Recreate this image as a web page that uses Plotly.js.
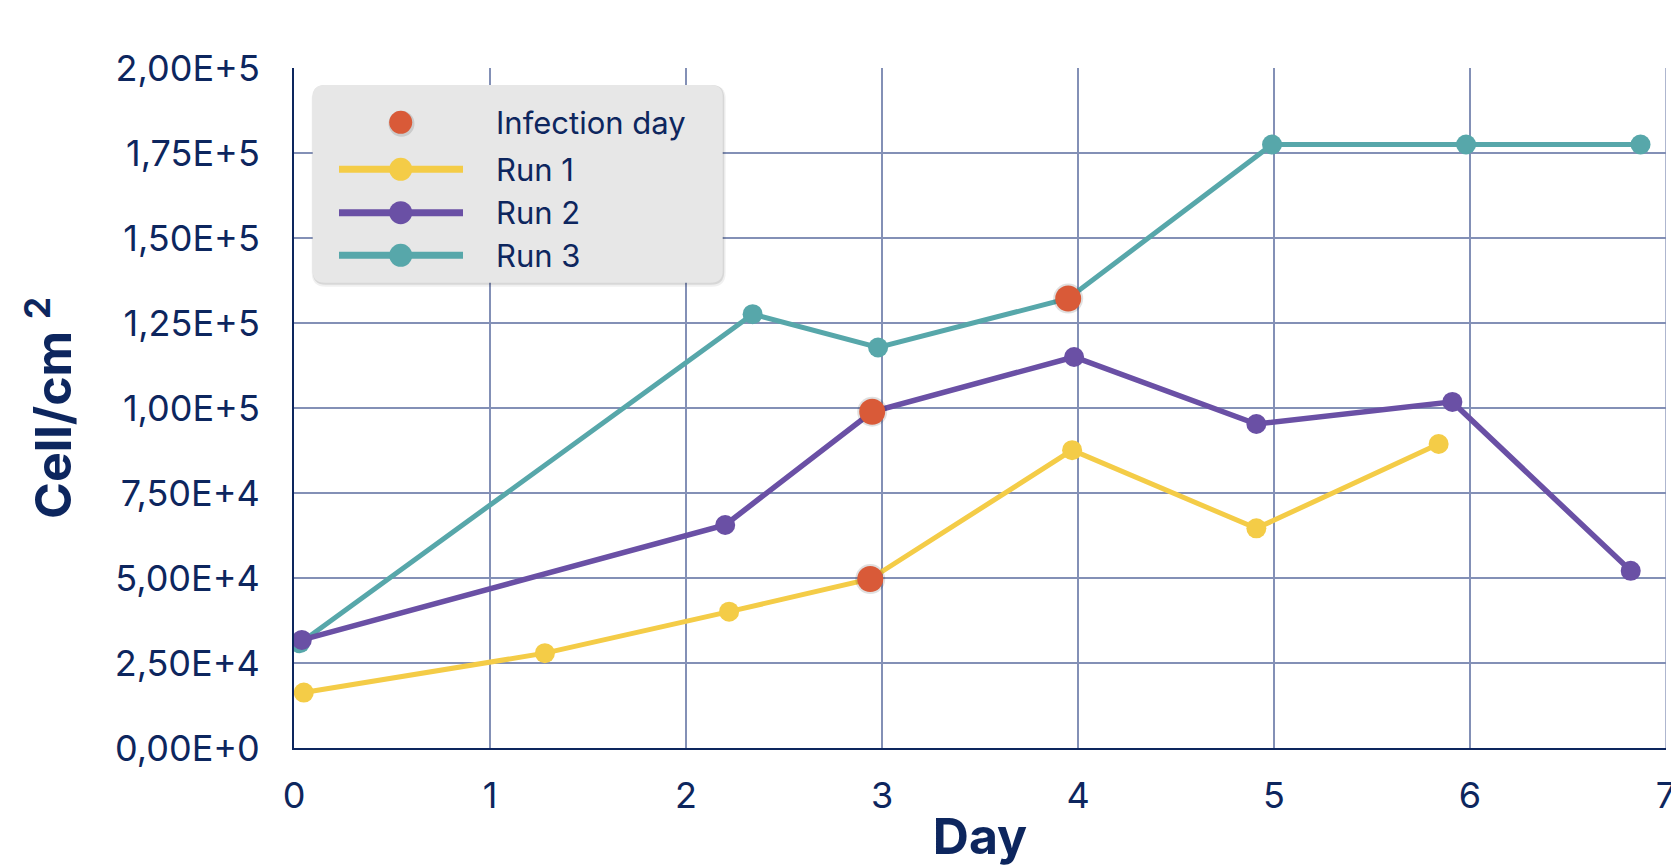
<!DOCTYPE html>
<html>
<head>
<meta charset="utf-8">
<script src="https://cdn.plot.ly/plotly-3.0.1.min.js"></script>
<style>html,body{margin:0;padding:0;background:#fff;}#chart{width:1671px;height:866px;}</style>
</head>
<body>
<div id="chart"></div>
<script>
// ---- data ----
const run1Days = [0.05, 1.28, 2.22, 2.94, 3.97, 4.91, 5.84];
const run1Vals = [16300, 27900, 40100, 49700, 87600, 64600, 89400];
const run2Days = [0.04, 2.20, 2.95, 3.98, 4.91, 5.91, 6.82];
const run2Vals = [31800, 65600, 98900, 115000, 95300, 101800, 52100];
const run3Days = [0.03, 2.34, 2.98, 3.95, 4.99, 5.98, 6.87];
const run3Vals = [30800, 127600, 117800, 132200, 177500, 177500, 177500];
const infectionDays = [2.94, 2.95, 3.95];
const infectionVals = [49700, 98900, 132200];
const yTickVals = [0, 25000, 50000, 75000, 100000, 125000, 150000, 175000, 200000];
const yTickText = ["0,00E+0", "2,50E+4", "5,00E+4", "7,50E+4", "1,00E+5", "1,25E+5", "1,50E+5", "1,75E+5", "2,00E+5"];
const xTickVals = [0, 1, 2, 3, 4, 5, 6, 7];
const legendNames = ["Infection day", "Run 1", "Run 2", "Run 3"];

const NAVY = '#0d265e';
const YELLOW = '#f4cc47';
const PURPLE = '#6a50a5';
const TEAL = '#57a7aa';
const RED = '#d95a38';
const GRID = '#8390b6';
const FONT = 'Inter, "Noto Sans", sans-serif';

const L = 294, R = 5, T = 68, B = 118, W = 1671, H = 866;
const PW = W - L - R, PH = H - T - B;
const px = x => (x - L) / PW;
const py = y => (H - B - y) / PH;

function line(name, x, y, color, width) {
  return {type: 'scatter', mode: 'lines+markers', name, x, y,
    line: {color, width}, marker: {color, size: 20}, showlegend: false, hoverinfo: 'x+y'};
}

const traces = [
  line('Run 1', run1Days, run1Vals, YELLOW, 5),
  line('Run 3', run3Days, run3Vals, TEAL, 5),
  line('Run 2', run2Days, run2Vals, PURPLE, 5.5),
  {type: 'scatter', mode: 'markers', x: infectionDays, y: infectionVals, showlegend: false,
   marker: {color: 'rgba(0,0,0,0.12)', size: 30}, hoverinfo: 'skip'},
  {type: 'scatter', mode: 'markers', name: 'Infection day', x: infectionDays, y: infectionVals,
   marker: {color: RED, size: 26}, showlegend: false}
];

// custom legend (rounded box)
function roundRect(x0, y0, x1, y1, r) {
  const a = px(x0), b = px(x1), c = py(y1), d = py(y0);
  const rx = r / PW, ry = r / PH;
  return `M${a+rx},${d} L${b-rx},${d} Q${b},${d} ${b},${d-ry} L${b},${c+ry} Q${b},${c} ${b-rx},${c} ` +
         `L${a+rx},${c} Q${a},${c} ${a},${c+ry} L${a},${d-ry} Q${a},${d} ${a+rx},${d} Z`;
}
const box = [312.7, 85, 722.7, 282.7];
const shapes = [
  // right border line of the plot area at day 7
  {type: 'line', xref: 'x', yref: 'paper', layer: 'below', x0: 7, x1: 7, y0: 0, y1: 1,
   line: {color: GRID, width: 1.3}},
  {type: 'path', xref: 'paper', yref: 'paper', layer: 'above', path: roundRect(box[0]-1, box[1], box[2]+3, box[3]+4, 14),
   fillcolor: 'rgba(0,0,0,0.06)', line: {width: 0}},
  {type: 'path', xref: 'paper', yref: 'paper', layer: 'above', path: roundRect(box[0], box[1], box[2]+1.5, box[3]+2, 13),
   fillcolor: 'rgba(0,0,0,0.10)', line: {width: 0}},
  {type: 'path', xref: 'paper', yref: 'paper', layer: 'above', path: roundRect(box[0], box[1], box[2], box[3], 12),
   fillcolor: '#e7e7e7', line: {width: 0}}
];
const rowY = [122.3, 169.3, 212.7, 255.3];
const symColors = [RED, YELLOW, PURPLE, TEAL];
const annotations = [];
legendNames.forEach((nm, i) => {
  if (i > 0) {
    shapes.push({type: 'line', xref: 'paper', yref: 'paper', layer: 'above',
      x0: px(339), x1: px(463), y0: py(rowY[i]), y1: py(rowY[i]), line: {color: symColors[i], width: 7}});
  } else {
    shapes.push({type: 'circle', xref: 'paper', yref: 'paper', layer: 'above', xsizemode: 'pixel', ysizemode: 'pixel',
      xanchor: px(401.5), yanchor: py(rowY[i] + 1.5), x0: -13, x1: 13, y0: -13, y1: 13,
      fillcolor: 'rgba(0,0,0,0.12)', line: {width: 0}});
  }
  shapes.push({type: 'circle', xref: 'paper', yref: 'paper', layer: 'above', xsizemode: 'pixel', ysizemode: 'pixel',
    xanchor: px(400.7), yanchor: py(rowY[i]), x0: -11.5, x1: 11.5, y0: -11.5, y1: 11.5,
    fillcolor: symColors[i], line: {width: 0}});
  annotations.push({xref: 'paper', yref: 'paper', x: px(494), y: py(rowY[i]), xanchor: 'left', yanchor: 'middle',
    text: nm, showarrow: false, font: {family: FONT, size: 31, color: NAVY}});
});

const layout = {
  width: W, height: H,
  margin: {l: L, r: R, t: T, b: B, pad: 0},
  paper_bgcolor: '#ffffff', plot_bgcolor: '#ffffff',
  font: {family: FONT, color: NAVY},
  showlegend: false,
  xaxis: {
    range: [0, 7], tickvals: xTickVals, ticktext: xTickVals.map(String),
    showgrid: true, gridcolor: GRID, gridwidth: 1.3,
    zeroline: false, showline: true, linecolor: NAVY, linewidth: 2,
    ticks: '', ticklabelstandoff: 15, ticklabeloverflow: 'allow',
    tickfont: {family: FONT, size: 36, color: NAVY},
    title: {text: 'Day', standoff: 21, font: {family: FONT, size: 50, color: NAVY, weight: 'bold'}}
  },
  yaxis: {
    range: [0, 200000], tickvals: yTickVals, ticktext: yTickText,
    showgrid: true, gridcolor: GRID, gridwidth: 1.3,
    zeroline: false, showline: true, linecolor: NAVY, linewidth: 2,
    ticks: '', ticklabelstandoff: 25,
    tickfont: {family: FONT, size: 36, color: NAVY},
    title: {text: 'Cell/cm <sup>2</sup>', standoff: 27, font: {family: FONT, size: 50, color: NAVY, weight: 'bold'}}
  },
  shapes, annotations
};

Plotly.newPlot('chart', traces, layout, {displayModeBar: false, staticPlot: true});
</script>
</body>
</html>
